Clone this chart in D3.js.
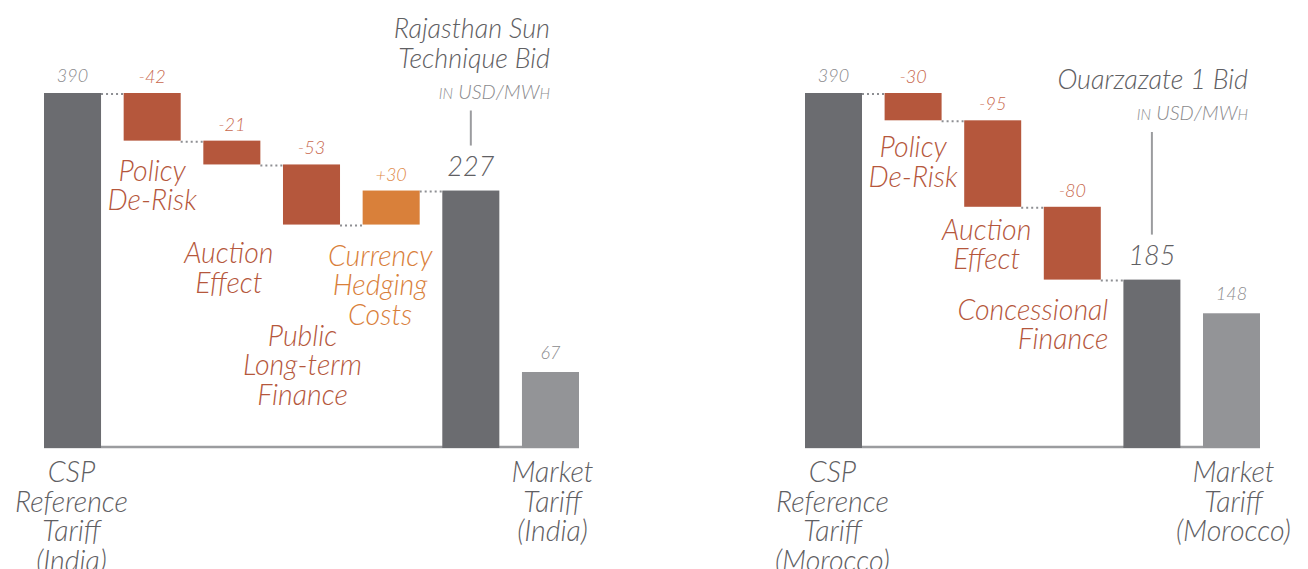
<!DOCTYPE html>
<html>
<head>
<meta charset="utf-8">
<title>CSP tariff waterfalls</title>
<script src="https://d3js.org/d3.v7.min.js"></script>
<style>
  body { margin: 0; background: #fff; }
  svg text { font-family: "Lato", "Open Sans", sans-serif; font-style: italic; font-weight: 300; }
</style>
</head>
<body>
<div id="chart"></div>
<script>
// ---- data ----
var indiaLabels = [["CSP", "Reference", "Tariff", "(India)"], ["Policy", "De-Risk"], ["Auction", "Effect"],
                   ["Public", "Long-term", "Finance"], ["Currency", "Hedging", "Costs"], [], ["Market", "Tariff", "(India)"]];
var indiaValues = [390, -42, -21, -53, 30, 227, 67];
var indiaTypes  = ["start", "cut", "cut", "cut", "cost", "bid", "market"];
var indiaTitle  = ["Rajasthan Sun", "Technique Bid"];

var moroccoLabels = [["CSP", "Reference", "Tariff", "(Morocco)"], ["Policy", "De-Risk"], ["Auction", "Effect"],
                     ["Concessional", "Finance"], [], ["Market", "Tariff", "(Morocco)"]];
var moroccoValues = [390, -30, -95, -80, 185, 148];
var moroccoTypes  = ["start", "cut", "cut", "cut", "bid", "market"];
var moroccoTitle  = ["Ouarzazate 1 Bid"];

var unitText = ["in", " USD/MW", "h"];

// ---- look ----
var fills  = {start: "#6b6c70", bid: "#6b6c70", market: "#939497", cut: "#b5573c", cost: "#d9803a"};
var inks   = {cut: "#b5573c", cost: "#d9803a"};
var numInk = {start: "#8a8a8d", market: "#8a8a8d", bid: "#5f6063", cut: "#c8674c", cost: "#e08a48"};

var W = 1308, H = 569, yBase = 448, yTop = 93;
var labelSize = 28.5, lineGap = 29.5;

var svg = d3.select("#chart").append("svg")
    .attr("width", W).attr("height", H);

// positions of the text for each step bar (offsets from bar center / bar bottom)
var indiaNotes = {1: {dx: 0, dy: 40, anchor: "middle"}, 2: {dx: -3, dy: 99, anchor: "middle"},
                  3: {dx: -9, dy: 121, anchor: "middle"}, 4: {dx: -11, dy: 41, anchor: "middle"}};
var moroccoNotes = {1: {dx: 0, dy: 37, anchor: "middle"}, 2: {dx: -6, dy: 33, anchor: "middle"},
                    3: {dx: 36, dy: 40, anchor: "end"}};

function drawChart(o) {
    var n = o.values.length;
    var bid = o.types.indexOf("bid");

    // walk back from the bid to get each step's start/end level
    var from = [], to = [];
    var level = o.values[bid];
    for (var i = bid - 1; i >= 1; i--) {
        to[i] = level;
        from[i] = level - o.values[i];
        level = from[i];
    }

    var x = d3.scaleBand()
        .domain(d3.range(n))
        .range(o.xRange)
        .paddingInner(0.284)
        .paddingOuter(0);

    var y = d3.scaleLinear()
        .domain([0, from[1]])
        .range([yBase, yTop])
        .clamp(true);

    var g = svg.append("g");

    // baseline
    g.append("line")
        .attr("x1", o.xRange[0]).attr("x2", o.xRange[1])
        .attr("y1", y(0) - 1).attr("y2", y(0) - 1)
        .attr("stroke", "#9b9c9f").attr("stroke-width", 2.5);

    function isStep(i) { return o.types[i] == "cut" || o.types[i] == "cost"; }
    function lo(i) { return isStep(i) ? Math.min(from[i], to[i]) : 0; }
    function hi(i) { return isStep(i) ? Math.max(from[i], to[i]) : o.values[i]; }

    // dotted connectors
    var links = d3.range(bid);
    g.selectAll(".link").data(links).enter().append("line")
        .attr("x1", function(i) { return x(i) + x.bandwidth(); })
        .attr("x2", function(i) { return x(i + 1); })
        .attr("y1", function(i) { return y(i == 0 ? from[1] : to[i]) + 1; })
        .attr("y2", function(i) { return y(i == 0 ? from[1] : to[i]) + 1; })
        .attr("stroke", "#8e8f93").attr("stroke-width", 2)
        .attr("stroke-dasharray", "2,3");

    // bars
    g.selectAll(".bar").data(d3.range(n)).enter().append("rect")
        .attr("x", function(i) { return x(i); })
        .attr("width", x.bandwidth())
        .attr("y", function(i) { return y(hi(i)); })
        .attr("height", function(i) { return y(lo(i)) - y(hi(i)); })
        .attr("fill", function(i) { return fills[o.types[i]]; });

    // value labels
    g.selectAll(".num").data(d3.range(n)).enter().append("text")
        .attr("x", function(i) { return x(i) + x.bandwidth() / 2; })
        .attr("y", function(i) {
            var t = o.types[i];
            return y(hi(i)) - (t == "bid" ? 15 : t == "market" ? 13 : t == "start" ? 11 : 10);
        })
        .attr("text-anchor", "middle")
        .attr("font-size", function(i) { return o.types[i] == "bid" ? 27 : 18; })
        .attr("fill", function(i) { return numInk[o.types[i]]; })
        .text(function(i) {
            var v = o.values[i];
            return (o.types[i] == "cost" && v > 0 ? "+" : "") + v;
        });

    // step names
    Object.keys(o.notes).forEach(function(k) {
        var i = +k, nt = o.notes[k];
        var cx = x(i) + x.bandwidth() / 2 + nt.dx;
        var t = g.append("text")
            .attr("text-anchor", nt.anchor)
            .attr("font-size", labelSize)
            .attr("fill", inks[o.types[i]]);
        o.labels[i].forEach(function(s, j) {
            t.append("tspan").attr("x", cx).attr("y", y(lo(i)) + nt.dy + j * lineGap).text(s);
        });
    });

    // names under the axis
    [0, n - 1].forEach(function(i) {
        var t = g.append("text")
            .attr("text-anchor", "middle")
            .attr("font-size", labelSize)
            .attr("fill", "#5f6063");
        o.labels[i].forEach(function(s, j) {
            t.append("tspan").attr("x", x(i) + x.bandwidth() / 2 + (i == 0 ? -1 : 2))
                .attr("y", 482 + j * lineGap).text(s);
        });
    });

    // title + unit + pointer line
    var bx = x(bid) + x.bandwidth() / 2;
    var tt = g.append("text")
        .attr("text-anchor", "end")
        .attr("font-size", 27)
        .attr("fill", "#5f6063");
    o.title.forEach(function(s, j) {
        tt.append("tspan").attr("x", o.titleX).attr("y", o.titleY + j * lineGap).text(s);
    });
    var uy = o.titleY + (o.title.length - 1) * lineGap + 31;
    var u = g.append("text")
        .attr("x", o.titleX).attr("y", uy)
        .attr("text-anchor", "end")
        .attr("fill", "#8a8a8d");
    u.append("tspan").attr("font-size", 15).text(unitText[0].toUpperCase());
    u.append("tspan").attr("font-size", 20).text(unitText[1]);
    u.append("tspan").attr("font-size", 15).text(unitText[2].toUpperCase());

    g.append("line")
        .attr("x1", bx).attr("x2", bx)
        .attr("y1", uy + 12).attr("y2", y(o.values[bid]) - 45)
        .attr("stroke", "#9b9c9f").attr("stroke-width", 2);
}

drawChart({labels: indiaLabels, values: indiaValues, types: indiaTypes, title: indiaTitle,
           notes: indiaNotes, xRange: [44, 579], titleX: 550, titleY: 38});
drawChart({labels: moroccoLabels, values: moroccoValues, types: moroccoTypes, title: moroccoTitle,
           notes: moroccoNotes, xRange: [805, 1260], titleX: 1248, titleY: 89});
</script>
</body>
</html>
